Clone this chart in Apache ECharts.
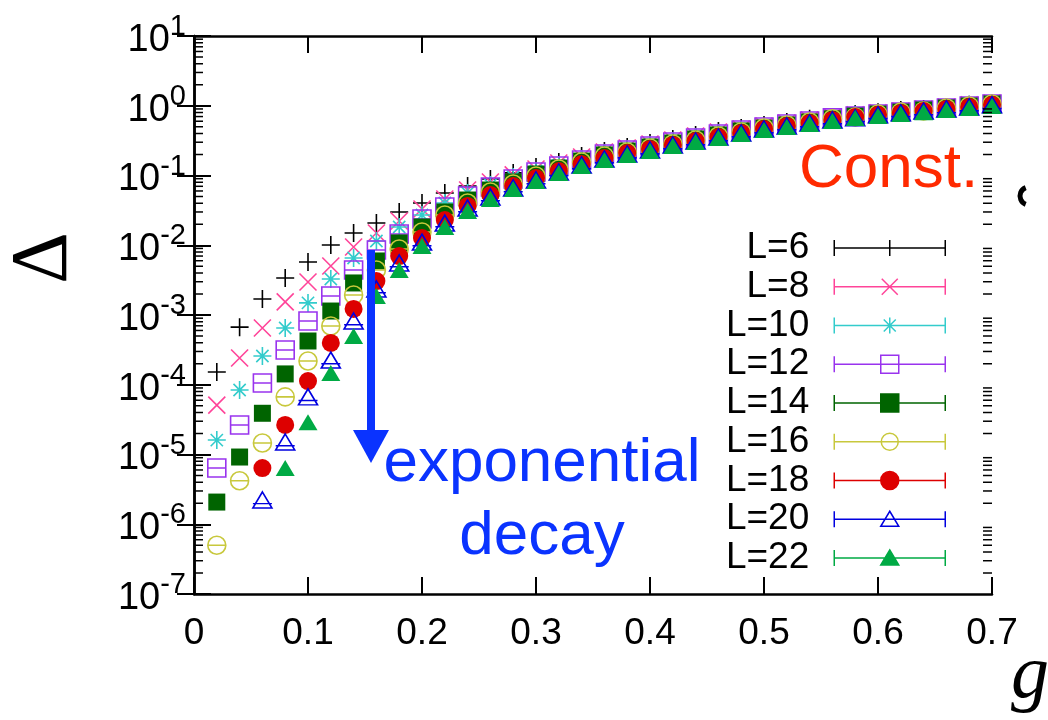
<!DOCTYPE html>
<html>
<head>
<meta charset="utf-8">
<script src="https://cdn.jsdelivr.net/npm/echarts@6/dist/echarts.min.js"></script>
<style>html,body{margin:0;padding:0;background:#fff;}#c{width:1048px;height:720px;}</style>
</head>
<body>
<div id="c"></div>
<script>
// ---- data ----
const gValues = [0.02,0.04,0.06,0.08,0.10,0.12,0.14,0.16,0.18,0.20,0.22,0.24,0.26,0.28,0.30,0.32,0.34,0.36,0.38,0.40,0.42,0.44,0.46,0.48,0.50,0.52,0.54,0.56,0.58,0.60,0.62,0.64,0.66,0.68,0.70];
const seriesNames = ['L=6','L=8','L=10','L=12','L=14','L=16','L=18','L=20','L=22'];
const L6  = [1.52e-4,6.7e-4,1.7e-3,3.4e-3,5.75e-3,1.01e-2,1.50e-2,2.08e-2,3.00e-2,4.04e-2,5.61e-2,7.07e-2,8.91e-2,0.109,0.132,0.156,0.190,0.224,0.256,0.292,0.334,0.381,0.435,0.480,0.530,0.585,0.65,0.69,0.76,0.81,0.87,0.90,0.96,1.03,1.09];
const L8  = [5.1e-5,2.42e-4,6.5e-4,1.54e-3,2.97e-3,5.05e-3,9.44e-3,1.50e-2,2.23e-2,3.31e-2,4.60e-2,6.19e-2,8.07e-2,0.102,0.124,0.151,0.184,0.217,0.248,0.283,0.323,0.368,0.420,0.464,0.513,0.566,0.625,0.69,0.74,0.79,0.84,0.90,0.96,1.03,1.09];
const L10 = [1.61e-5,8.4e-5,2.58e-4,6.5e-4,1.49e-3,3.28e-3,6.56e-3,1.15e-2,1.83e-2,2.72e-2,4.04e-2,5.61e-2,7.31e-2,9.52e-2,0.116,0.141,0.172,0.210,0.240,0.274,0.312,0.356,0.407,0.449,0.496,0.548,0.605,0.67,0.74,0.79,0.84,0.87,0.96,1.03,1.09];
const L12 = [6.4e-6,2.65e-5,1.06e-4,3.15e-4,8.2e-4,1.87e-3,4.42e-3,8.55e-3,1.45e-2,2.38e-2,3.53e-2,5.08e-2,6.84e-2,8.91e-2,0.112,0.137,0.167,0.203,0.232,0.265,0.302,0.345,0.394,0.449,0.496,0.548,0.605,0.67,0.71,0.76,0.81,0.87,0.93,0.99,1.06];
const L14 = [2.08e-6,9.2e-6,3.9e-5,1.43e-4,4.24e-4,1.14e-3,2.88e-3,5.95e-3,1.08e-2,1.83e-2,3.00e-2,4.45e-2,6.19e-2,8.07e-2,0.105,0.128,0.161,0.197,0.224,0.256,0.292,0.334,0.381,0.435,0.480,0.530,0.585,0.65,0.71,0.76,0.81,0.87,0.93,0.99,1.06];
const L16 = [5.0e-7,4.2e-6,1.46e-5,6.7e-5,2.19e-4,6.95e-4,1.94e-3,4.42e-3,8.84e-3,1.55e-2,2.72e-2,4.04e-2,5.80e-2,7.55e-2,9.84e-2,0.124,0.156,0.190,0.217,0.248,0.283,0.323,0.368,0.420,0.480,0.530,0.585,0.65,0.69,0.76,0.81,0.84,0.93,0.99,1.06];
const L18 = [null,null,6.4e-6,2.65e-5,1.13e-4,3.97e-4,1.22e-3,3.07e-3,7.01e-3,1.27e-2,2.30e-2,3.66e-2,5.25e-2,7.07e-2,9.21e-2,0.116,0.146,0.178,0.210,0.240,0.274,0.312,0.356,0.407,0.464,0.513,0.566,0.625,0.69,0.74,0.79,0.84,0.90,0.96,1.03];
const L20 = [null,null,2.23e-6,1.51e-5,6.7e-5,2.26e-4,8.2e-4,2.36e-3,5.57e-3,1.11e-2,2.08e-2,3.42e-2,4.92e-2,6.62e-2,8.62e-2,0.112,0.141,0.172,0.203,0.232,0.274,0.312,0.356,0.407,0.464,0.513,0.566,0.625,0.67,0.74,0.79,0.84,0.90,0.96,1.03];
const L22 = [null,null,null,6.4e-6,2.9e-5,1.47e-4,5.0e-4,1.87e-3,4.42e-3,9.76e-3,1.83e-2,3.10e-2,4.60e-2,6.40e-2,8.34e-2,0.109,0.137,0.167,0.197,0.224,0.265,0.302,0.345,0.394,0.449,0.496,0.548,0.605,0.67,0.71,0.76,0.81,0.87,0.93,0.99];
const xTicks = [0,0.1,0.2,0.3,0.4,0.5,0.6,0.7];
const yMin = 1e-7, yMax = 10;

// ---- styling ----
const allValues = [L6,L8,L10,L12,L14,L16,L18,L20,L22];
const colors = ['#000000','#ff4499','#33cccc','#9933ee','#006400','#c8c83c','#dd0000','#0000e0','#00aa44'];
const filled = [false,false,false,false,true,false,true,false,true];
const symbols = [
  'path://M0,5L10,5M5,0L5,10',
  'path://M0,0L10,10M10,0L0,10',
  'path://M0,5L10,5M5,0L5,10M1.6,1.6L8.4,8.4M8.4,1.6L1.6,8.4',
  'path://M0,0L10,0L10,10L0,10ZM0,5L10,5',
  'rect',
  'path://M0,5A5,5,0,1,1,10,5A5,5,0,1,1,0,5ZM0,5L10,5',
  'circle',
  'path://M5,0L10,10L0,10ZM0,7.3L10,7.3',
  'triangle'
];
const sizes = [18,17,18,18,17,18,18,[19,16],[19,16]];
const base = 'M0,1L0,17M111,1L111,17M0,9L111,9';
const legendMarks = [
  'M55.5,1L55.5,17',
  'M47.5,1L63.5,17M63.5,1L47.5,17',
  'M55.5,1L55.5,17M49.5,3L61.5,15M61.5,3L49.5,15',
  'M46.5,0L64.5,0L64.5,18L46.5,18Z',
  'M46.5,0L64.5,0L64.5,18L46.5,18Z',
  'M47,9A8.5,8.5,0,1,1,64,9A8.5,8.5,0,1,1,47,9Z',
  'M46.5,9A9,9,0,1,1,64.5,9A9,9,0,1,1,46.5,9Z',
  'M55.5,1L64.5,16L46.5,16Z',
  'M55.5,1L64.5,16L46.5,16Z'
];

const series = seriesNames.map((name, i) => ({
  name: name,
  type: 'scatter',
  xAxisIndex: 0, yAxisIndex: 0,
  symbol: symbols[i],
  symbolSize: sizes[i],
  itemStyle: {
    color: filled[i] ? colors[i] : 'rgba(0,0,0,0)',
    borderColor: colors[i],
    borderWidth: filled[i] ? 0 : 1.6,
    opacity: 1
  },
  emphasis: {disabled: true},
  z: 3 + i,
  data: gValues.map((g, k) => [g, allValues[i][k]]).filter(d => d[1] !== null)
}));

const xLo = xTicks[0], xHi = xTicks[xTicks.length - 1];
const FONT = "'Liberation Sans', Arial, Helvetica, sans-serif";
const axisLine = {show: true, lineStyle: {color: '#000', width: 2.5}};
const tick = {show: true, inside: true, length: 17, lineStyle: {color: '#000', width: 2}};

const chart = echarts.init(document.getElementById('c'), null, {renderer: 'canvas'});
chart.setOption({
  animation: false,
  backgroundColor: '#fff',
  grid: {left: 194, right: 56, top: 36, bottom: 126, containLabel: false},
  xAxis: [
    {type: 'value', position: 'bottom', min: xLo, max: xHi, interval: 0.1,
     axisLine: axisLine, axisTick: tick, splitLine: {show: false},
     axisLabel: {show: true, margin: 21, color: '#000', fontSize: 37, fontFamily: FONT,
       formatter: v => String(Math.round(v * 10) / 10)}},
    {type: 'value', position: 'top', min: xLo, max: xHi, interval: 0.1,
     axisLine: axisLine, axisTick: tick, splitLine: {show: false}, axisLabel: {show: false}}
  ],
  yAxis: [
    {type: 'log', logBase: 10, position: 'left', min: yMin, max: yMax, splitNumber: 8,
     axisLine: axisLine, axisTick: tick, splitLine: {show: false}, minorTick: {show: false},
     axisLabel: {show: true, margin: 8, color: '#000', fontFamily: FONT,
       formatter: v => '{b|10}{s|' + Math.round(Math.log10(v)) + '}',
       rich: {
         b: {fontSize: 38, fontFamily: FONT, color: '#000', verticalAlign: 'bottom', padding: [9, 0, 0, 0]},
         s: {fontSize: 29, fontFamily: FONT, color: '#000', verticalAlign: 'top'}
       }}},
    {type: 'log', logBase: 10, position: 'right', min: yMin, max: yMax, splitNumber: 8,
     axisLine: axisLine, axisTick: tick, splitLine: {show: false}, minorTick: {show: false}, axisLabel: {show: false}}
  ],
  legend: {
    orient: 'vertical', right: 102, top: 229, padding: 0, itemGap: 0.75, align: 'right',
    itemWidth: 111, itemHeight: 18, selectedMode: false,
    textStyle: {fontSize: 37, fontFamily: FONT, color: '#000', lineHeight: 38, padding: [0, 20, 0, 0]},
    data: seriesNames.map((n, i) => ({
      name: n,
      icon: 'path://' + base + legendMarks[i],
      itemStyle: {color: filled[i] ? colors[i] : 'rgba(0,0,0,0)', borderColor: colors[i], borderWidth: 1.5, opacity: 1}
    }))
  },
  series: series
});

const annotations = [
  {type: 'rect', z: 100, shape: {x: 367, y: 250, width: 8, height: 182}, style: {fill: '#0a33ff'}},
  {type: 'polygon', z: 100, shape: {points: [[353, 430], [389, 430], [371, 463]]}, style: {fill: '#0a33ff'}},
  {type: 'text', z: 100, style: {text: 'exponential', x: 542, y: 464, align: 'center', verticalAlign: 'middle', font: "62px 'Liberation Sans', Arial, sans-serif", fill: '#0a33ff'}},
  {type: 'text', z: 100, style: {text: 'decay', x: 542, y: 537, align: 'center', verticalAlign: 'middle', font: "62px 'Liberation Sans', Arial, sans-serif", fill: '#0a33ff'}},
  {type: 'text', z: 100, style: {text: 'Const.', x: 799, y: 170, align: 'left', verticalAlign: 'middle', font: "62px 'Liberation Sans', Arial, sans-serif", fill: '#ff2a00'}},
  {type: 'text', z: 100, x: 45, y: 258, rotation: Math.PI / 2, style: {text: 'Δ', x: 0, y: 0, align: 'center', verticalAlign: 'middle', font: "80px 'Liberation Serif', 'DejaVu Serif', serif", fill: '#000'}},
  {type: 'text', z: 100, style: {text: 'g', x: 1030, y: 677, align: 'center', verticalAlign: 'middle', font: "italic 76px 'Liberation Serif', 'DejaVu Serif', serif", fill: '#000'}},
  {type: 'arc', z: 100, shape: {cx: 1029, cy: 196, r: 9, startAngle: Math.PI * 0.62, endAngle: Math.PI * 1.38}, style: {stroke: '#000', lineWidth: 5, fill: null}}
];

// log minor ticks (2..9 of each decade), placed through the axis scales
const minorTickValues = [];
for (let e = -7; e <= 0; e++) for (let k = 2; k <= 9; k++) minorTickValues.push(k * Math.pow(10, e));
const xLeftPx = chart.convertToPixel({xAxisIndex: 0}, xLo);
const xRightPx = chart.convertToPixel({xAxisIndex: 0}, xHi);
const tickGraphics = [];
minorTickValues.forEach(v => {
  const py = chart.convertToPixel({yAxisIndex: 0}, v);
  tickGraphics.push({type: 'line', z: 50, silent: true, shape: {x1: xLeftPx, y1: py, x2: xLeftPx + 9, y2: py}, style: {stroke: '#000', lineWidth: 1.5}});
  tickGraphics.push({type: 'line', z: 50, silent: true, shape: {x1: xRightPx - 9, y1: py, x2: xRightPx, y2: py}, style: {stroke: '#000', lineWidth: 1.5}});
});
chart.setOption({graphic: annotations.concat(tickGraphics)});
</script>
</body>
</html>
